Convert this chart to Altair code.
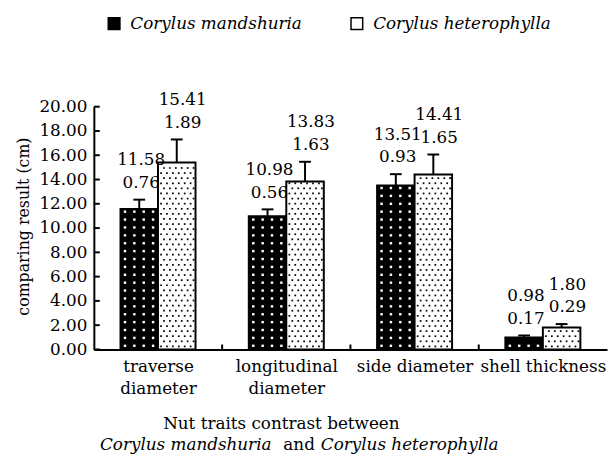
import altair as alt
import pandas as pd

# ---------------- data ----------------
categories = ["traverse diameter", "longitudinal diameter", "side diameter", "shell thickness"]
category_lines = [["traverse", "diameter"], ["longitudinal", "diameter"], ["side diameter"], ["shell thickness"]]
species = ["Corylus mandshuria", "Corylus heterophylla"]
mandshuria_mean = [11.58, 10.98, 13.51, 0.98]
mandshuria_sd = [0.76, 0.56, 0.93, 0.17]
heterophylla_mean = [15.41, 13.83, 14.41, 1.80]
heterophylla_sd = [1.89, 1.63, 1.65, 0.29]
y_ticks = [0, 2, 4, 6, 8, 10, 12, 14, 16, 18, 20]
y_title = "comparing result (cm)"
x_title_line1 = "Nut traits contrast between"
x_title_line2 = ["Corylus mandshuria", "and", "Corylus heterophylla"]

rows = []
for i, c in enumerate(categories):
    rows.append(dict(category=c, idx=i, species=species[0], side=0,
                     mean=mandshuria_mean[i], sd=mandshuria_sd[i]))
    rows.append(dict(category=c, idx=i, species=species[1], side=1,
                     mean=heterophylla_mean[i], sd=heterophylla_sd[i]))
df = pd.DataFrame(rows)

FONT = "DejaVu Serif"
FS = 17
W, H = 520, 246
BW = 38 / 130  # bar width in category units

xs = alt.Scale(domain=[0, len(categories)], nice=False, zero=False)
ys = alt.Scale(domain=[0, 20], nice=False)

label_expr = "[" + ",".join(
    "[" + ",".join("'" + s + "'" for s in lines) + "]" for lines in category_lines
) + "][floor(datum.value)]"

base = alt.Chart(df).transform_calculate(
    x0=f"datum.idx + 0.5 - {BW} + datum.side * {BW}",
    x1=f"datum.idx + 0.5 + datum.side * {BW}",
    xc=f"datum.idx + 0.5 - {BW/2} + datum.side * {BW}",
    xl=f"datum.idx + 0.5 - {BW/2} + datum.side * {BW} + (datum.side == 1 ? 0.046 : 0.015)",
    top="datum.mean + datum.sd",
    meanlab="format(datum.mean, '.2f')",
    sdlab="format(datum.sd, '.2f')",
)

x_axis = alt.Axis(values=[i + 0.5 for i in range(len(categories))],
                  labelExpr=label_expr, tickSize=0, title=None,
                  labelPadding=9, labelLineHeight=23, labelBaseline="top",
                  labelFlush=False)
y_axis = alt.Axis(values=y_ticks, format=".2f", tickSize=0, labelPadding=7,
                  labelFlush=False, title=y_title,
                  titleAngle=270, titleX=-71, titleY=H / 2 - 2,
                  titleAlign="center", titleBaseline="middle")

bars = base.mark_rect(stroke="black", strokeWidth=2).encode(
    x=alt.X("x0:Q", scale=xs, axis=x_axis),
    x2="x1:Q",
    y=alt.Y("mean:Q", scale=ys, axis=y_axis),
    y2=alt.datum(0),
    fill=alt.Fill("species:N", scale=alt.Scale(domain=species, range=["black", "white"]),
                  legend=alt.Legend(title=None, orient="none", legendX=12, legendY=-93,
                                    direction="horizontal", symbolType="square",
                                    symbolSize=140, symbolStrokeColor="black",
                                    symbolStrokeWidth=1.5, labelFont=FONT,
                                    labelFontSize=FS, labelFontStyle="italic",
                                    labelColor="black", labelOffset=8,
                                    columnPadding=46, labelLimit=300)),
)

dots_m = base.transform_filter("datum.side == 0").transform_calculate(
    ri="sequence(0, floor(datum.mean / 0.65) + 1)"
).transform_flatten(["ri"]).transform_calculate(
    ci="sequence(0, 4)"
).transform_flatten(["ci"]).transform_calculate(
    px="datum.x0 + 0.035 + datum.ci * 0.073",
    py="0.3 + datum.ri * 0.65",
).transform_filter("datum.py < datum.mean - 0.15").mark_square(
    size=6, color="white", opacity=1
).encode(x=alt.X("px:Q", scale=xs, axis=x_axis), y=alt.Y("py:Q", scale=ys, axis=y_axis))

dots_h = base.transform_filter("datum.side == 1").transform_calculate(
    ri="sequence(0, floor(datum.mean / 0.42) + 1)"
).transform_flatten(["ri"]).transform_calculate(
    ci="sequence(0, 6)"
).transform_flatten(["ci"]).transform_calculate(
    px="datum.x0 + 0.024 + datum.ci * 0.046 + (datum.ri % 2) * 0.023",
    py="0.25 + datum.ri * 0.42",
).transform_filter("datum.py < datum.mean - 0.12").mark_square(
    size=3, color="black", opacity=1
).encode(x=alt.X("px:Q", scale=xs, axis=x_axis), y=alt.Y("py:Q", scale=ys, axis=y_axis))

err = base.mark_rule(color="black", strokeWidth=2).encode(
    x=alt.X("xc:Q", scale=xs, axis=x_axis), y=alt.Y("mean:Q", scale=ys, axis=y_axis), y2="top:Q"
)
cap = base.transform_calculate(
    ca="datum.xc - 0.046", cb="datum.xc + 0.046"
).mark_rule(color="black", strokeWidth=2).encode(
    x=alt.X("ca:Q", scale=xs, axis=x_axis), x2="cb:Q", y=alt.Y("top:Q", scale=ys, axis=y_axis)
)

sd_text = base.mark_text(font=FONT, fontSize=FS, color="black", baseline="middle", dy=-17).encode(
    x=alt.X("xl:Q", scale=xs, axis=x_axis), y=alt.Y("top:Q", scale=ys, axis=y_axis), text="sdlab:N"
)
mean_text = base.mark_text(font=FONT, fontSize=FS, color="black", baseline="middle", dy=-40).encode(
    x=alt.X("xl:Q", scale=xs, axis=x_axis), y=alt.Y("top:Q", scale=ys, axis=y_axis), text="meanlab:N"
)

ytick_rules = alt.Chart(pd.DataFrame({"v": y_ticks})).mark_rule(color="black", strokeWidth=2).encode(
    y=alt.Y("v:Q", scale=ys, axis=y_axis), x=alt.value(0), x2=alt.value(6)
)
xtick_rules = alt.Chart(pd.DataFrame({"b": list(range(1, len(categories)))})).mark_rule(
    color="black", strokeWidth=2
).encode(x=alt.X("b:Q", scale=xs, axis=x_axis), y=alt.value(H - 5), y2=alt.value(H))

t1 = alt.Chart(pd.DataFrame({"t": [x_title_line1]})).mark_text(
    font=FONT, fontSize=FS, color="black", align="center", baseline="middle"
).encode(text="t:N", x=alt.value(190), y=alt.value(322))
t2a = alt.Chart(pd.DataFrame({"t": [x_title_line2[0]]})).mark_text(
    font=FONT, fontSize=FS, fontStyle="italic", color="black", align="right", baseline="middle"
).encode(text="t:N", x=alt.value(180), y=alt.value(343))
t2b = alt.Chart(pd.DataFrame({"t": [x_title_line2[1]]})).mark_text(
    font=FONT, fontSize=FS, color="black", align="center", baseline="middle"
).encode(text="t:N", x=alt.value(208), y=alt.value(343))
t2c = alt.Chart(pd.DataFrame({"t": [x_title_line2[2]]})).mark_text(
    font=FONT, fontSize=FS, fontStyle="italic", color="black", align="left", baseline="middle"
).encode(text="t:N", x=alt.value(230), y=alt.value(343))

chart = alt.layer(
    bars, dots_m, dots_h, err, cap, sd_text, mean_text, ytick_rules, xtick_rules,
    t1, t2a, t2b, t2c
).properties(
    width=W, height=H,
    autosize=alt.AutoSizeParams(type="none"),
    padding={"left": 87, "top": 97, "right": 1, "bottom": 107},
    background="white",
).configure(font=FONT).configure_view(stroke=None).configure_axis(
    labelFont=FONT, labelFontSize=FS, labelColor="black", labelOverlap=False,
    titleFont=FONT, titleFontSize=16, titleFontWeight="normal", titleColor="black",
    grid=False, domainColor="black", domainWidth=2,
)

chart.save("out.html", embed_options={"renderer": "svg", "actions": False})
